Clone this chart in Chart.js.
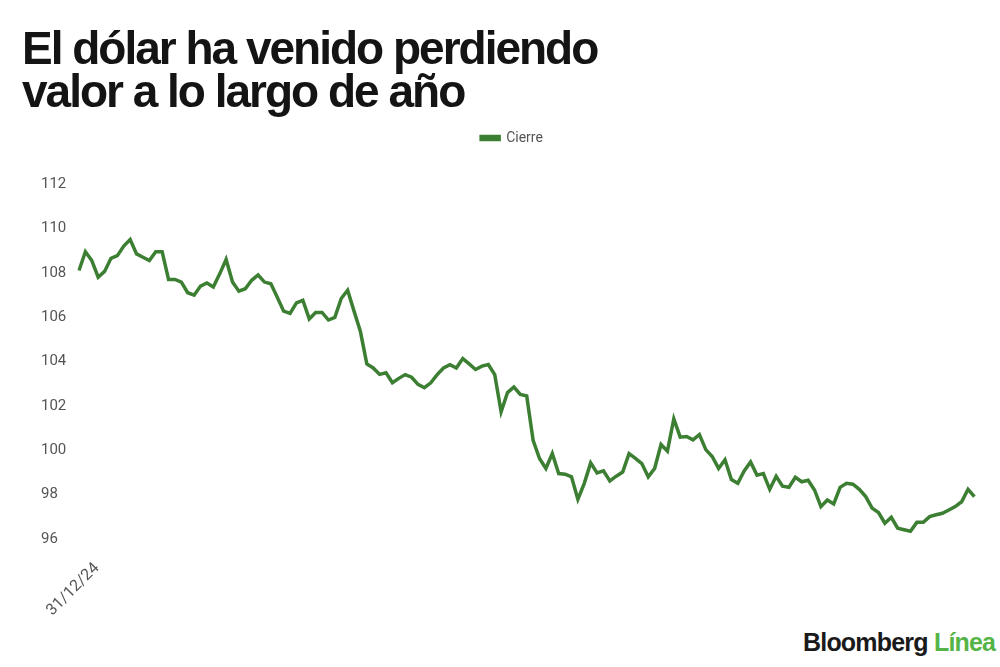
<!DOCTYPE html>
<html lang="es">
<head>
    <meta charset="UTF-8">
    <title>El dólar ha venido perdiendo valor</title>
    <script src="https://cdn.jsdelivr.net/npm/chart.js"></script>
    <style>
        body {
            margin: 0;
            width: 1000px;
            height: 667px;
            background: #fff;
            position: relative;
            overflow: hidden;
            font-family: 'Liberation Sans', Arial, sans-serif;
        }
        h1 {
            position: absolute;
            left: 22px;
            top: 27px;
            margin: 0;
            font-family: 'Liberation Sans', Arial, sans-serif;
            font-weight: 700;
            font-size: 46px;
            line-height: 43px;
            letter-spacing: -2px;
            color: #141414;
            z-index: 2;
        }
        .chart-box {
            position: absolute;
            left: 0;
            top: 93px;
            width: 1000px;
            height: 527px;
        }
        .logo {
            position: absolute;
            left: 803px;
            top: 628px;
            font-family: 'Liberation Sans', Arial, sans-serif;
            font-weight: 700;
            font-size: 25px;
            letter-spacing: -0.8px;
            color: #1a1a1a;
        }
        .logo span {
            color: #55b447;
        }
    </style>
</head>
<body>
    <h1>El dólar ha venido perdiendo<br>valor a lo largo de año</h1>

    <div class="chart-box">
        <canvas id="dolarChart"></canvas>
    </div>

    <div class="logo">Bloomberg <span>Línea</span></div>

    <script>
        // cierre diario, desde 31/12/24
        const firstDate = '31/12/24';
        const cierre = [
            108.1, 108.95, 108.55, 107.8, 108.06, 108.65, 108.77, 109.2, 109.5, 108.85,
            108.7, 108.55, 108.95, 108.95, 107.7, 107.7, 107.58, 107.1, 106.99, 107.4,
            107.54, 107.36, 107.95, 108.6, 107.58, 107.17, 107.28, 107.66, 107.9, 107.58,
            107.5, 106.9, 106.27, 106.17, 106.64, 106.76, 105.92, 106.21, 106.21, 105.87,
            105.99, 106.84, 107.21, 106.27, 105.35, 103.89, 103.71, 103.42, 103.49, 103.04,
            103.24, 103.41, 103.29, 102.97, 102.82, 103.04, 103.41, 103.71, 103.86, 103.71,
            104.13, 103.89, 103.64, 103.79, 103.86, 103.41, 101.73, 102.6, 102.85, 102.52,
            102.45, 100.45, 99.63, 99.18, 99.85, 98.95, 98.92, 98.8, 97.79, 98.51,
            99.43, 98.98, 99.07, 98.62, 98.83, 99.02, 99.85, 99.63, 99.4, 98.8,
            99.18, 100.26, 99.96, 101.41, 100.59, 100.62, 100.47, 100.71, 100.03, 99.72,
            99.18, 99.57, 98.68, 98.51, 99.07, 99.47, 98.88, 98.95, 98.24, 98.83,
            98.38, 98.33, 98.78, 98.58, 98.65, 98.21, 97.46, 97.76, 97.58, 98.33,
            98.51, 98.47, 98.24, 97.91, 97.39, 97.19, 96.71, 96.98, 96.49, 96.42,
            96.35, 96.75, 96.75, 97.01, 97.09, 97.16, 97.31, 97.46, 97.68, 98.24,
            97.91
        ];
        const yTicks = [96, 98, 100, 102, 104, 106, 108, 110, 112];

        // fechas hábiles a partir del 31/12/24 (solo se muestra la primera)
        const fechas = [];
        let d = new Date(2024, 11, 31);
        while (fechas.length < cierre.length) {
            const day = d.getDay();
            if (day !== 0 && day !== 6) {
                const dd = String(d.getDate()).padStart(2, '0');
                const mm = String(d.getMonth() + 1).padStart(2, '0');
                const yy = String(d.getFullYear()).slice(2);
                fechas.push(dd + '/' + mm + '/' + yy);
            }
            d.setDate(d.getDate() + 1);
        }
        fechas[0] = firstDate;

        const green = '#3c7f33';

        // deja más aire entre la leyenda y el gráfico
        const legendGap = {
            id: 'legendGap',
            beforeLayout(chart) {
                const legend = chart.legend;
                if (legend && !legend._gapPatched) {
                    const fit = legend.fit;
                    legend.fit = function () {
                        fit.call(this);
                        this.height += 29;
                    };
                    legend._gapPatched = true;
                }
            }
        };

        const ctx = document.getElementById('dolarChart').getContext('2d');
        new Chart(ctx, {
            type: 'line',
            data: {
                labels: fechas,
                datasets: [{
                    label: 'Cierre',
                    data: cierre,
                    borderColor: green,
                    backgroundColor: green,
                    borderWidth: 3.5,
                    pointRadius: 0,
                    tension: 0,
                    fill: false
                }]
            },
            plugins: [legendGap],
            options: {
                responsive: true,
                maintainAspectRatio: false,
                animation: false,
                layout: {
                    padding: { left: 41, right: 17, top: 0, bottom: 0 }
                },
                plugins: {
                    legend: {
                        position: 'top',
                        labels: {
                            boxWidth: 18,
                            boxHeight: 3,
                            padding: 38,
                            color: '#555',
                            font: { family: 'Roboto', size: 14 }
                        }
                    },
                    tooltip: { enabled: false }
                },
                scales: {
                    x: {
                        grid: { display: false },
                        border: { display: false },
                        afterFit: function (scale) { scale.height = 81; },
                        ticks: {
                            autoSkip: false,
                            maxRotation: 45,
                            minRotation: 45,
                            padding: 12,
                            labelOffset: 18,
                            color: '#555',
                            font: { family: 'Roboto', size: 16 },
                            callback: function (value, index) {
                                return index === 0 ? fechas[0] : '';
                            }
                        }
                    },
                    y: {
                        min: 96,
                        max: 112,
                        grid: { display: false },
                        border: { display: false },
                        afterFit: function (scale) { scale.width = 38; },
                        afterBuildTicks: function (scale) {
                            scale.ticks = yTicks.map(v => ({ value: v }));
                        },
                        ticks: {
                            crossAlign: 'far',
                            color: '#555',
                            font: { family: 'Roboto', size: 15 }
                        }
                    }
                }
            }
        });
    </script>
</body>
</html>
